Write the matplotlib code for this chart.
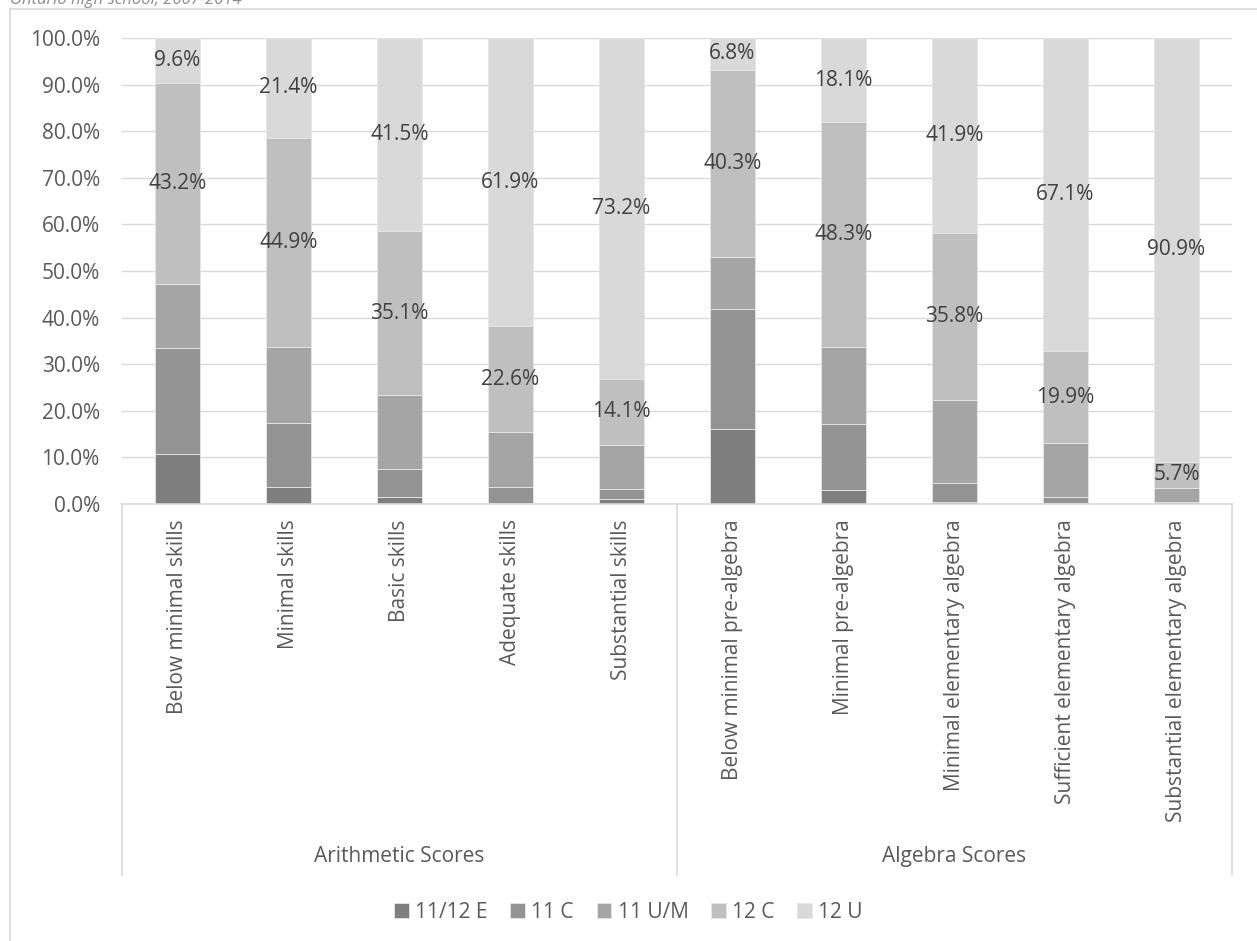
import matplotlib.pyplot as plt
from matplotlib.patches import Rectangle
from matplotlib.ticker import PercentFormatter

plt.rcParams['font.family'] = ['Open Sans', 'DejaVu Sans']

categories = ["Below minimal skills", "Minimal skills", "Basic skills",
              "Adequate skills", "Substantial skills",
              "Below minimal pre-algebra", "Minimal pre-algebra",
              "Minimal elementary algebra", "Sufficient elementary algebra",
              "Substantial elementary algebra"]
groups = ["Arithmetic Scores", "Algebra Scores"]
series = ["11/12 E", "11 C", "11 U/M", "12 C", "12 U"]

# share of students per course (%)
e_1112 = [10.7, 3.7, 1.4, 0.3, 1.0, 16.2, 3.0, 0.5, 0.3, 0.1]
c_11 = [22.8, 13.7, 6.2, 3.4, 2.2, 25.6, 14.2, 3.9, 1.1, 0.3]
um_11 = [13.7, 16.3, 15.8, 11.8, 9.5, 11.1, 16.4, 17.9, 11.6, 3.0]
c_12 = [43.2, 44.9, 35.1, 22.6, 14.1, 40.3, 48.3, 35.8, 19.9, 5.7]
u_12 = [9.6, 21.4, 41.5, 61.9, 73.2, 6.8, 18.1, 41.9, 67.1, 90.9]

colors = ["#7f7f7f", "#939393", "#a5a5a5", "#bfbfbf", "#d9d9d9"]
text_col = "#595959"
fs = 15

W, H = 1257, 941
fig = plt.figure(figsize=(W / 100, H / 100), dpi=100)
ax = fig.add_axes([122 / W, 1 - 504 / H, (1232 - 122) / W, (504 - 38) / H])

x = list(range(len(categories)))
bottom = [0.0] * len(categories)
bars = []
for name, vals, col in zip(series, [e_1112, c_11, um_11, c_12, u_12], colors):
    b = ax.bar(x, vals, 0.4, bottom=bottom, color=col, label=name,
               edgecolor="#e6e6e6", linewidth=0.6, zorder=2)
    bars.append((b, vals))
    bottom = [a + v for a, v in zip(bottom, vals)]

# only the grade 12 segments carry labels
for b, vals in bars[3:]:
    ax.bar_label(b, labels=[f"{v:.1f}%" for v in vals], label_type="center",
                 fontsize=fs, color="#404040")

ax.set_xlim(-0.5, len(categories) - 0.5)
ax.set_ylim(0, 100)
ax.set_yticks(range(0, 101, 10))
ax.yaxis.set_major_formatter(PercentFormatter(decimals=1))
ax.yaxis.grid(True, color="#d9d9d9", linewidth=1, zorder=0)
ax.set_axisbelow(True)
for s in ["top", "right", "left"]:
    ax.spines[s].set_visible(False)
ax.spines["bottom"].set_color("#d9d9d9")
ax.spines["bottom"].set_linewidth(1.2)
ax.tick_params(axis="y", length=0, pad=16, labelsize=fs, labelcolor=text_col)
ax.set_xticks(x)
ax.set_xticklabels(categories, rotation=90, va="top", ha="center")
ax.tick_params(axis="x", length=0, pad=11, labelsize=fs, labelcolor=text_col)

# category group box below the axis
tr = ax.get_xaxis_transform()
box_bottom = -0.796
for xv in [-0.5, 4.5, len(categories) - 0.5]:
    ax.plot([xv, xv], [0, box_bottom], transform=tr, color="#d9d9d9",
            linewidth=1.2, clip_on=False)
ax.text(2, -0.757, groups[0], transform=tr, ha="center", va="center",
        fontsize=fs, color=text_col)
ax.text(7, -0.757, groups[1], transform=tr, ha="center", va="center",
        fontsize=fs, color=text_col)

handles, labels = ax.get_legend_handles_labels()
fig.legend(handles, labels, loc="center", bbox_to_anchor=(0.5, 1 - 912 / H),
           ncol=5, frameon=False, fontsize=fs, handlelength=0.7,
           handleheight=0.7, handletextpad=0.3, columnspacing=1.1,
           labelcolor=text_col)

# chart frame and title
fig.add_artist(Rectangle((10 / W, -0.01), 1.0, 1 - 9 / H + 0.01,
                         transform=fig.transFigure, fill=False,
                         edgecolor="#d9d9d9", linewidth=1.2))
fig.text(10 / W, 1 - 4 / H, "Ontario high school, 2007-2014", ha="left",
         va="baseline", fontsize=12, style="italic", color="#8c8c8c")

fig.savefig("out.png", dpi=100)
